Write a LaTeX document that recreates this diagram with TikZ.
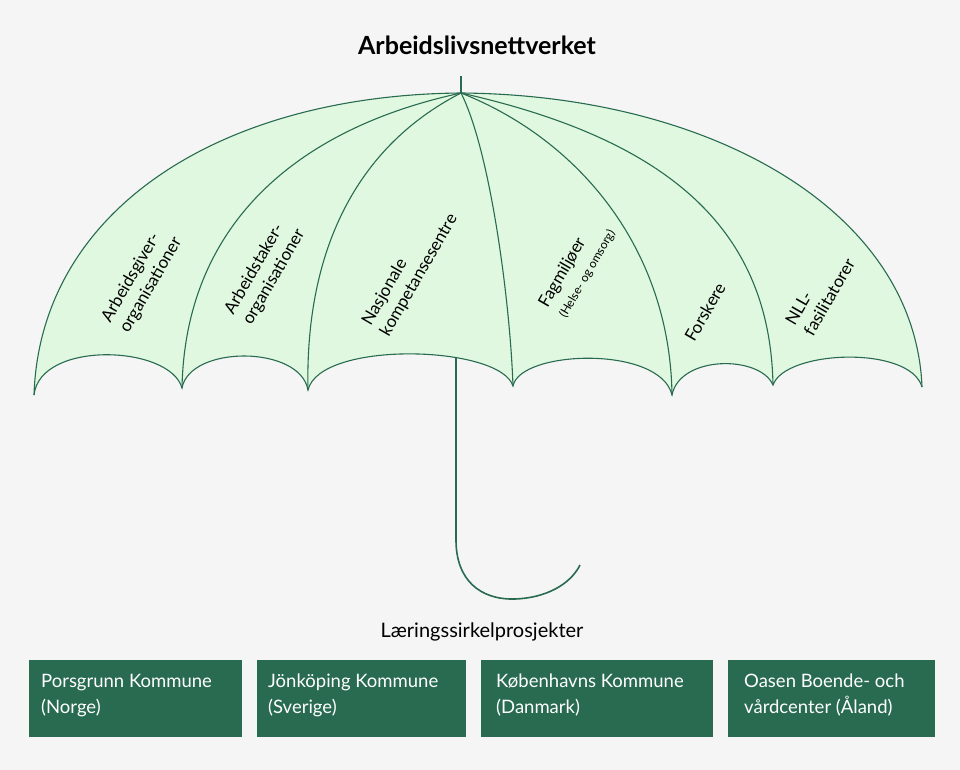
\documentclass[tikz,border=0pt]{standalone}
\usepackage{fontspec}
\setmainfont{Lato}
\begin{document}
\definecolor{bg}{HTML}{F5F5F5}
\definecolor{dg}{HTML}{286B50}
\definecolor{lg}{HTML}{E0F8E0}
\begin{tikzpicture}[x=1pt,y=-1pt,
 rib/.style={draw=dg,line width=1.1pt},
 lab/.style={rotate=60,align=left,font=\fontsize{17}{21}\selectfont,anchor=center},
 box/.style={fill=dg,text=white,font=\fontsize{18.5}{26}\selectfont,align=left,anchor=north west,inner sep=0pt}]
\fill[bg] (0,0) rectangle (960,770);
\useasboundingbox (0,0) rectangle (960,770);
\coordinate (A) at (461,93);
\coordinate (T) at (461,76);
% canopy
\fill[lg] (A) .. controls (220,95) and (40,210) .. (34,395)
 .. controls (40,340) and (170,345) .. (182,388)
 .. controls (190,345) and (300,345) .. (308,390)
 .. controls (320,340) and (500,345) .. (513,386)
 .. controls (520,350) and (660,345) .. (672,395)
 .. controls (680,355) and (760,355) .. (773,385)
 .. controls (785,350) and (910,345) .. (922,387)
 .. controls (915,210) and (710,95) .. (A);
\draw[rib] (34,395) .. controls (40,340) and (170,345) .. (182,388)
 .. controls (190,345) and (300,345) .. (308,390)
 .. controls (320,340) and (500,345) .. (513,386)
 .. controls (520,350) and (660,345) .. (672,395)
 .. controls (680,355) and (760,355) .. (773,385)
 .. controls (785,350) and (910,345) .. (922,387);
\draw[rib] (A) .. controls (220,95) and (40,210) .. (34,395);
\draw[rib] (A) .. controls (290,130) and (185,230) .. (182,388);
\draw[rib] (A) .. controls (350,150) and (305,260) .. (308,390);
\draw[rib] (A) .. controls (490,150) and (510,300) .. (513,386);
\draw[rib] (A) .. controls (580,140) and (670,250) .. (672,395);
\draw[rib] (A) .. controls (670,140) and (770,230) .. (773,385);
\draw[rib] (A) .. controls (710,95) and (915,210) .. (922,387);
\draw[rib] (T) -- (A);
% shaft
\coordinate (S) at (456,358);
\coordinate (H) at (580,565);
\draw[dg,line width=1.6pt] (S) -- (456,540) .. controls (456,580) and (480,600) .. (515,599) .. controls (545,598) and (570,585) .. (H);
% labels
\node[lab] (l1) at (142,280) {Arbeidsgiver-\\organisationer};
\node[lab] (l2) at (265,272) {Arbeidstaker-\\organisationer};
\node[lab] (l3) at (410,270) {Nasjonale\\kompetansesentre};
\node[lab] (l4) at (577,268) {Fagmiljøer\\{\fontsize{12}{14}\selectfont (Helse- og omsorg)}};
\node[lab] (l5) at (705,312) {Forskere};
\node[lab] (l6) at (820,292) {NLL-\\fasilitatorer};
\node[font=\bfseries\fontsize{25}{28}\selectfont] (title) at (477,45) {Arbeidslivsnettverket};
\node[font=\fontsize{20}{22}\selectfont] (sub) at (482,632) {Læringssirkelprosjekter};
% boxes
\fill[dg] (29,660) rectangle (242,737);
\fill[dg] (257,660) rectangle (466,737);
\fill[dg] (481,660) rectangle (713,737);
\fill[dg] (728,660) rectangle (935,737);
\node[box] (b1) at (41,674) {Porsgrunn Kommune\\(Norge)};
\node[box] (b2) at (268,674) {Jönköping Kommune\\(Sverige)};
\node[box] (b3) at (496,674) {Københavns Kommune\\(Danmark)};
\node[box] (b4) at (744,674) {Oasen Boende- och\\vårdcenter (Åland)};
\end{tikzpicture}
\end{document}
